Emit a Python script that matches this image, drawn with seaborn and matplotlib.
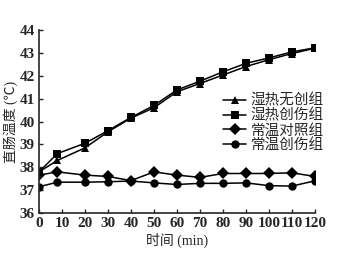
import pandas as pd
import seaborn as sns
import matplotlib.pyplot as plt

# time points (min)
times = [0, 8, 20, 30, 40, 50, 60, 70, 80, 90, 100, 110, 120]

groups = ['湿热无创组', '湿热创伤组', '常温对照组', '常温创伤组']
hot_uninjured = [37.8, 38.3, 38.85, 39.55, 40.15, 40.6, 41.3, 41.66, 42.03, 42.4, 42.7, 42.97, 43.2]
hot_injured = [37.8, 38.6, 39.05, 39.6, 40.18, 40.7, 41.38, 41.76, 42.17, 42.54, 42.78, 43.04, 43.22]
normal_control = [37.66, 37.8, 37.66, 37.6, 37.42, 37.8, 37.66, 37.56, 37.73, 37.73, 37.73, 37.76, 37.6]
normal_injured = [37.15, 37.35, 37.35, 37.37, 37.4, 37.32, 37.25, 37.3, 37.3, 37.32, 37.2, 37.18, 37.41]

x_ticks = list(range(0, 121, 10))
y_ticks = list(range(36, 45))

# Build a long table for seaborn
series = [hot_uninjured, hot_injured, normal_control, normal_injured]
rows = []
for name, vals in zip(groups, series):
    for t, v in zip(times, vals):
        rows.append({'time': t, 'temp': v, 'group': name})
df = pd.DataFrame(rows)

sns.set_style('ticks')
plt.rcParams['font.family'] = ['Liberation Serif', 'Noto Sans CJK SC', 'DejaVu Sans']

fig = plt.figure(figsize=(3.48, 2.58), dpi=100)
ax = fig.add_axes([0.112, 0.174, 0.793, 0.71])

markers = {'湿热无创组': '^', '湿热创伤组': 's', '常温对照组': 'D', '常温创伤组': 'o'}
sns.lineplot(data=df, x='time', y='temp', hue='group', style='group',
             hue_order=groups, style_order=groups,
             palette=['black'] * 4, markers=markers, dashes=False,
             markersize=6, linewidth=1.1, markeredgewidth=0, ax=ax)

ax.set_xlim(0, 120)
ax.set_ylim(36, 44)
ax.set_xticks(x_ticks)
ax.set_yticks(y_ticks)
ax.tick_params(direction='in', length=3, width=1.0, labelsize=11, pad=3)
for lab in ax.get_xticklabels() + ax.get_yticklabels():
    lab.set_fontweight('bold')
for side in ['top', 'right']:
    ax.spines[side].set_visible(False)
for side in ['left', 'bottom']:
    ax.spines[side].set_linewidth(1.2)

ax.set_xlabel('时间 (min)', fontsize=10, labelpad=2)
ax.set_ylabel('直肠温度 (℃)', fontsize=10, labelpad=1)

handles, labels = ax.get_legend_handles_labels()
ax.legend(handles, labels, frameon=False, loc='upper left',
          bbox_to_anchor=(0.63, 0.71), fontsize=10.5, handlelength=1.6,
          handletextpad=0.3, labelspacing=0.05, borderpad=0.2)

plt.savefig('out.png', dpi=100)
